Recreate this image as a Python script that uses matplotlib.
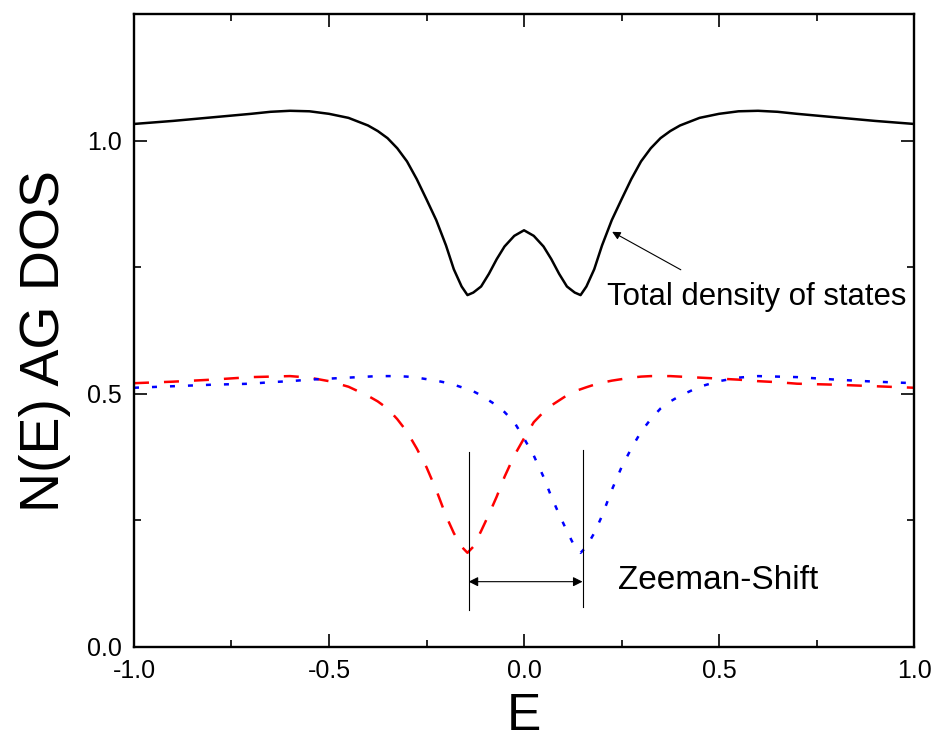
import numpy as np
import matplotlib
matplotlib.use("Agg")
import matplotlib.pyplot as plt
from matplotlib.ticker import MultipleLocator

plt.rcParams['font.family'] = ['Liberation Sans', 'DejaVu Sans']
plt.rcParams['axes.unicode_minus'] = False

# energy grid and the values
energy = [-1.0, -0.9, -0.8, -0.7, -0.65, -0.6, -0.55, -0.5, -0.45, -0.4, -0.375, -0.35,
          -0.325, -0.3, -0.275, -0.25, -0.225, -0.2, -0.18, -0.16, -0.145, -0.13,
          -0.11, -0.09, -0.07, -0.05, -0.025, 0.0, 0.025, 0.05, 0.07, 0.09, 0.11,
          0.13, 0.145, 0.16, 0.18, 0.2, 0.225, 0.25, 0.275, 0.3, 0.325, 0.35,
          0.375, 0.4, 0.45, 0.5, 0.55, 0.6, 0.65, 0.7, 0.8, 0.9, 1.0]

# spin up (red dashed)
dos_up = [0.521, 0.524, 0.528, 0.533, 0.534, 0.535, 0.532, 0.525, 0.514, 0.496, 0.485, 0.471,
          0.450, 0.425, 0.392, 0.355, 0.310, 0.259, 0.225, 0.198, 0.186, 0.198,
          0.229, 0.262, 0.297, 0.336, 0.378, 0.412, 0.444, 0.464, 0.477, 0.487, 0.497,
          0.505, 0.509, 0.513, 0.518, 0.522, 0.526, 0.529, 0.532, 0.534, 0.535, 0.535,
          0.535, 0.534, 0.532, 0.530, 0.528, 0.525, 0.523, 0.520, 0.518, 0.515, 0.512]

# spin down (blue dotted)
dos_down = [0.512, 0.515, 0.518, 0.520, 0.523, 0.525, 0.528, 0.530, 0.532, 0.534, 0.535, 0.535,
            0.535, 0.534, 0.532, 0.529, 0.526, 0.522, 0.518, 0.513, 0.509, 0.505,
            0.497, 0.487, 0.477, 0.464, 0.444, 0.412, 0.378, 0.336, 0.297, 0.262, 0.229,
            0.198, 0.186, 0.198, 0.225, 0.259, 0.310, 0.355, 0.392, 0.425, 0.450, 0.471,
            0.485, 0.496, 0.514, 0.525, 0.532, 0.535, 0.534, 0.533, 0.528, 0.524, 0.521]

# total (black)
dos_total = [1.033, 1.039, 1.046, 1.053, 1.057, 1.059, 1.058, 1.053, 1.045, 1.030, 1.019, 1.005,
             0.985, 0.959, 0.924, 0.884, 0.843, 0.793, 0.746, 0.712, 0.695, 0.700,
             0.712, 0.737, 0.766, 0.791, 0.812, 0.823, 0.812, 0.791, 0.766, 0.737, 0.712,
             0.700, 0.695, 0.712, 0.746, 0.793, 0.843, 0.884, 0.924, 0.959, 0.985, 1.005,
             1.019, 1.030, 1.045, 1.053, 1.058, 1.059, 1.057, 1.053, 1.046, 1.039, 1.033]

shift_left = -0.142
shift_right = 0.150

fig = plt.figure(figsize=(9.37, 7.49), dpi=100)
ax = fig.add_axes([0.143, 0.1362, 0.8325, 0.845])

ax.plot(energy, dos_total, color='black', lw=1.8)
ax.plot(energy, dos_up, color='red', lw=1.8, linestyle=(0, (6, 6)))
ax.plot(energy, dos_down, color='blue', lw=1.8, linestyle=(0, (2, 5.2)))

# Zeeman shift marker
ax.plot([shift_left, shift_left], [0.073, 0.385], color='black', lw=0.8)
ax.plot([shift_right, shift_right], [0.079, 0.389], color='black', lw=0.8)
ax.annotate('', xy=(shift_left, 0.129), xytext=(shift_right, 0.129),
            arrowprops=dict(arrowstyle='<|-|>', color='black', lw=0.8,
                            mutation_scale=14, shrinkA=0, shrinkB=0))
ax.text(0.240, 0.132, 'Zeeman-Shift', fontsize=24, va='center', ha='left')

ax.annotate('', xy=(0.226, 0.820), xytext=(0.402, 0.745),
            arrowprops=dict(arrowstyle='-|>', color='black', lw=0.8,
                            mutation_scale=12, shrinkA=0, shrinkB=0))
ax.text(0.214, 0.692, 'Total density of states', fontsize=22.4, va='center', ha='left')

ax.set_xlim(-1.0, 1.0)
ax.set_ylim(0.0, 1.25)
ax.xaxis.set_major_locator(MultipleLocator(0.5))
ax.xaxis.set_minor_locator(MultipleLocator(0.25))
ax.yaxis.set_major_locator(MultipleLocator(0.5))
ax.yaxis.set_minor_locator(MultipleLocator(0.25))
ax.tick_params(which='both', direction='in', top=True, right=True, width=1.2,
               labelsize=18)
ax.tick_params(which='major', length=9.5, pad=9)
ax.tick_params(which='minor', length=5)
for s in ax.spines.values():
    s.set_linewidth(1.7)

ax.set_xlabel('E', fontsize=37, labelpad=6)
ax.set_ylabel('N(E) AG DOS', fontsize=40, labelpad=11)
ax.yaxis.label.set_y(0.483)

fig.savefig('out.png', dpi=100)
